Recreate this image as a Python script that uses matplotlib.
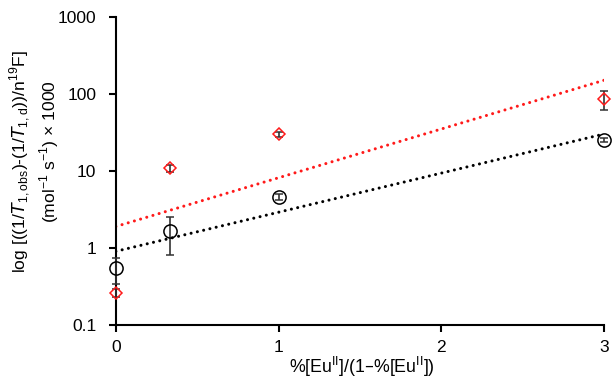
import numpy as np
import matplotlib
matplotlib.use("Agg")
from matplotlib import pyplot as plt

plt.rcParams['font.family'] = ['Liberation Sans', 'DejaVu Sans']

# data
x = [0, 1/3, 1, 3]
black_y = [0.545, 1.68, 4.6, 25.3]
black_err = [0.2, 0.87, 0.4, 1.5]
red_y = [0.263, 10.8, 30.0, 85.0]
red_err = [0.03, 1.0, 2.0, 23.0]

yticks = [0.1, 1, 10, 100, 1000]
ytick_labels = ['0.1', '1', '10', '100', '1000']
xticks = [0, 1, 2, 3]

fig = plt.figure(figsize=(6.13, 3.79), dpi=100)
ax = fig.add_axes([0.189, 0.1425, 0.796, 0.8125])

# exponential trendlines (Excel style: fit of log y on x)
xf = np.linspace(0, 3, 200)
for yy, col in [(black_y, 'black'), (red_y, '#ff1a1a')]:
    k, b = np.polyfit(x, np.log10(yy), 1)
    ax.plot(xf, 10**(b + k*xf), color=col, lw=2.2, linestyle=(0, (0.01, 2.1)),
            dash_capstyle='round', zorder=2)

ax.errorbar(x, black_y, yerr=black_err, fmt='o', mfc='none', mec='black',
            mew=1.1, ms=9.5, ecolor='#333333', elinewidth=1.2, capsize=3,
            capthick=1.2, clip_on=False, zorder=3)
ax.errorbar(x, red_y, yerr=red_err, fmt='D', mfc='none', mec='#ff1a1a',
            mew=1.1, ms=6.5, ecolor='#333333', elinewidth=1.2, capsize=3,
            capthick=1.2, clip_on=False, zorder=4)

ax.set_yscale('log')
ax.set_ylim(0.1, 1000)
ax.set_xlim(0, 3)
ax.set_yticks(yticks)
ax.set_yticklabels(ytick_labels)
ax.minorticks_off()
ax.set_xticks(xticks)
ax.tick_params(labelsize=12.5, width=1.5, length=5, direction='out', color='black')
ax.tick_params(axis='x', pad=6)
ax.tick_params(axis='y', pad=9)

for s in ['top', 'right']:
    ax.spines[s].set_visible(False)
for s in ['left', 'bottom']:
    ax.spines[s].set_linewidth(1.5)

fig.text(0.59, 0.032, r'%[Eu$^{\mathregular{II}}$]/(1–%[Eu$^{\mathregular{II}}$])',
         ha='center', va='center', fontsize=12.8)
fig.text(0.034, 0.574, r'log [((1/$\it{T}$$_{\mathregular{1,obs}}$)-(1/$\it{T}$$_{\mathregular{1,d}}$))/n$^{\mathregular{19}}$F]',
         rotation=90, ha='center', va='center', fontsize=12.6)
fig.text(0.080, 0.599, r'(mol$^{\mathregular{-1}}$ s$^{\mathregular{-1}}$) × 1000',
         rotation=90, ha='center', va='center', fontsize=12.6)

fig.savefig('out.png', dpi=100)
